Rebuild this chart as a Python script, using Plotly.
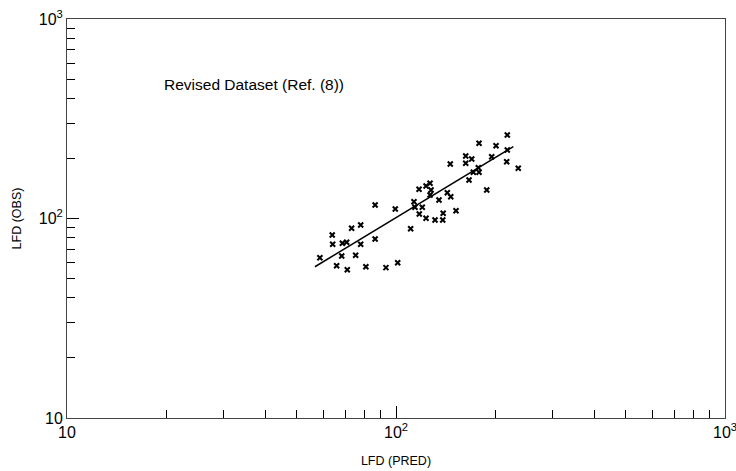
import plotly.graph_objects as go

lfd_pred = [58.7, 64.0, 64.2, 66.0, 68.4, 68.7, 70.8, 71.1, 73.3, 75.4,
            78.1, 78.1, 81.0, 86.4, 86.4, 93.2, 99.5, 101.2, 110.8, 113.4,
            114.2, 117.5, 117.7, 120.2, 123.4, 123.4, 126.9, 127.8, 126.9, 131.4,
            135.1, 138.7, 139.1, 143.2, 146.7, 146.2, 152.2, 162.9, 162.9, 169.9,
            166.7, 171.8, 177.9, 178.8, 178.8, 188.7, 195.4, 201.4, 217.0, 217.9,
            217.9, 235.3]
lfd_obs = [63.6, 82.6, 74.3, 58.0, 64.9, 75.1, 76.0, 55.4, 89.3, 65.4,
           92.8, 74.3, 57.3, 116.9, 78.9, 56.7, 111.6, 60.0, 88.9, 121.4,
           113.8, 140.1, 105.3, 113.8, 100.2, 145.6, 150.1, 139.0, 131.2, 98.3,
           123.8, 98.3, 106.2, 134.7, 128.6, 187.6, 109.4, 205.7, 189.1, 198.7,
           156.0, 170.4, 179.8, 170.4, 238.2, 139.0, 204.1, 231.7, 192.6, 262.1,
           220.5, 178.5]
fit_x = [56.7, 227.3]
fit_y = [57.3, 229.1]

major_vals = [10, 100, 1000]
major_text = ["10", "10<sup>2</sup>", "10<sup>3</sup>"]
minor_vals = [20, 30, 40, 50, 60, 70, 80, 90, 200, 300, 400, 500, 600, 700, 800, 900]

FONT = "Liberation Sans, Arial, sans-serif"

fig = go.Figure()
fig.add_trace(go.Scatter(x=fit_x, y=fit_y, mode="lines",
                         line=dict(color="black", width=1.5), showlegend=False))
fig.add_trace(go.Scatter(x=lfd_pred, y=lfd_obs, mode="markers",
                         marker=dict(symbol="x-thin-open", size=5, color="black",
                                     line=dict(color="black", width=2)),
                         showlegend=False))

axis_common = dict(
    type="log",
    tickmode="array",
    tickvals=major_vals,
    ticktext=major_text,
    ticks="inside",
    ticklen=12,
    tickcolor="black",
    tickwidth=1,
    showgrid=False,
    zeroline=False,
    showline=True,
    linecolor="#444",
    linewidth=1,
    mirror=True,
    automargin=False,
    ticklabeloverflow="allow",
    tickfont=dict(family=FONT, size=16, color="black"),
    minor=dict(tickmode="array", tickvals=minor_vals, ticks="inside",
               ticklen=8, tickcolor="black", showgrid=False),
)

fig.update_xaxes(range=[1, 3], title=dict(text="LFD (PRED)", standoff=16,
                 font=dict(family=FONT, size=12.5, color="black")),
                 **axis_common)
fig.update_yaxes(range=[1, 3], title=dict(text="LFD (OBS)", standoff=14,
                 font=dict(family=FONT, size=12.5, color="black")),
                 **axis_common)

fig.add_annotation(x=0.145, y=0.835, xref="paper", yref="paper",
                   text="Revised Dataset (Ref. (8))", showarrow=False,
                   xanchor="left", yanchor="middle",
                   font=dict(family=FONT, size=15.5, color="black"))

fig.update_layout(
    width=736, height=471,
    margin=dict(l=67, r=11, t=19, b=53),
    paper_bgcolor="white", plot_bgcolor="white",
)

fig.write_html("out.html")
